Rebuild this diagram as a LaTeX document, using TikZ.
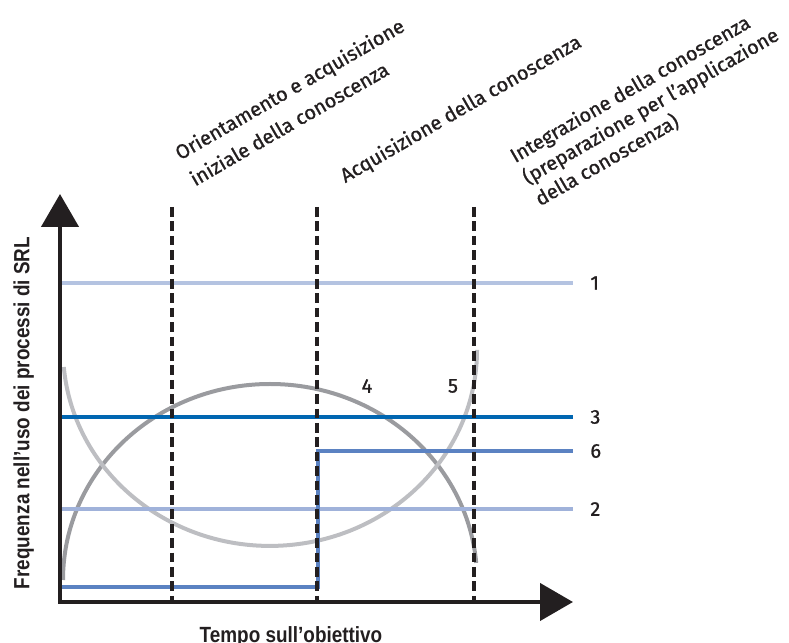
\documentclass[tikz,border=0pt]{standalone}
\usepackage{fontspec}
\setmainfont{Fira Sans}[FakeBold=1]
\newfontfamily\axisfont[FakeStretch=0.86]{Liberation Sans}
\usepackage{xcolor}
\usetikzlibrary{positioning, arrows.meta}

\definecolor{lineone}{HTML}{B4C3E1}
\definecolor{linetwo}{HTML}{A0B2DA}
\definecolor{linethree}{HTML}{0066B1}
\definecolor{linesix}{HTML}{5B82C2}
\definecolor{arcgray}{HTML}{9A9B9F}
\definecolor{ugray}{HTML}{BDBEC2}
\definecolor{axisblack}{HTML}{231F20}

\begin{document}
\begin{tikzpicture}[
        % 1 unit = 1 pixel of the 789x643 frame
        x=0.5pt, y=0.5pt,
        every node/.style={font=\fontsize{10}{12}\selectfont, text=axisblack},
        axis/.style={line width=2.2pt, draw=axisblack,
                     {Triangle[length=16.5pt, width=18.5pt]}-{Triangle[length=16.5pt, width=18.5pt]}},
        phase/.style={line width=2.3pt, draw=axisblack,
                      dash pattern=on 4.8pt off 2.4pt},
        level/.style={line width=2pt},
        curve/.style={line width=2pt},
        % anchored at the baseline of the last line
        phaselabel/.style={rotate=30, anchor=base west, align=left, inner sep=0pt},
        num/.style={inner sep=0pt},
        title/.style={font=\axisfont\bfseries\fontsize{11}{13}\selectfont, inner sep=0pt}
    ]
    \useasboundingbox (0,0) rectangle (789,643);

    % --- Axes ---
    \coordinate (O) at (60,41);
    \coordinate (ytip) at (60,449);
    \coordinate (xtip) at (573,41);

    % --- Curves ---
    \coordinate (arcstart) at (63,63);
    \coordinate (ustart) at (63.8,276);
    \draw[curve, arcgray] (arcstart) arc[start angle=180, end angle=5, x radius=207, y radius=196];
    \draw[curve, ugray] (ustart) arc[start angle=185, end angle=360, x radius=207, y radius=196];

    % --- Levels ---
    \coordinate (l1s) at (62,360);
    \coordinate (l1e) at (573,360);
    \coordinate (l2s) at (62,134);
    \coordinate (l2e) at (573,134);
    \coordinate (l3s) at (62,226);
    \coordinate (l3e) at (573,226);
    \coordinate (l6s) at (62,56);
    \coordinate (l6up) at (318,192);
    \coordinate (l6e) at (573,192);

    \draw[level, lineone] (l1s) -- (l1e);
    \draw[level, linetwo] (l2s) -- (l2e);
    \draw[level, linethree] (l3s) -- (l3e);
    \draw[level, linesix] (l6s) -| (l6up) -- (l6e);

    % --- Phases ---
    \coordinate (topa) at (172,436);
    \coordinate (topb) at (317,436);
    \coordinate (topc) at (474,436);
    \draw[phase] (topa) -- (topa |- O);
    \draw[phase] (topb) -- (topb |- O);
    \draw[phase] (topc) -- (topc |- O);

    \draw[axis] (ytip) -- (O) -- (xtip);

    % --- Labels ---
    \node[num, right=8.5pt of l1e] (n1) {1};
    \node[num, right=8.5pt of l2e] (n2) {2};
    \node[num, right=8.5pt of l3e] (n3) {3};
    \node[num, right=8.5pt of l6e] (n6) {6};
    \node (n4) at (367,257) {4};
    \node (n5) at (453,257) {5};

    \node[phaselabel, font=\fontsize{10}{15}\selectfont] (phaseA) at (195,456.3)
        {Orientamento e acquisizione\\iniziale della conoscenza};
    \node[phaselabel] (phaseB) at (345,459.7) {Acquisizione della conoscenza};
    \node[phaselabel, font=\fontsize{10}{12.5}\selectfont] (phaseC) at (540,436.3)
        {Integrazione della conoscenza\\(preparazione per l’applicazione\\della conoscenza)};

    \node[title, rotate=90, anchor=base] (ytitle) at (29.5,230) {Frequenza nell’uso dei processi di SRL};
    \node[title, anchor=base] (xtitle) at (291,0.5) {Tempo sull’obiettivo};

\end{tikzpicture}
\end{document}
